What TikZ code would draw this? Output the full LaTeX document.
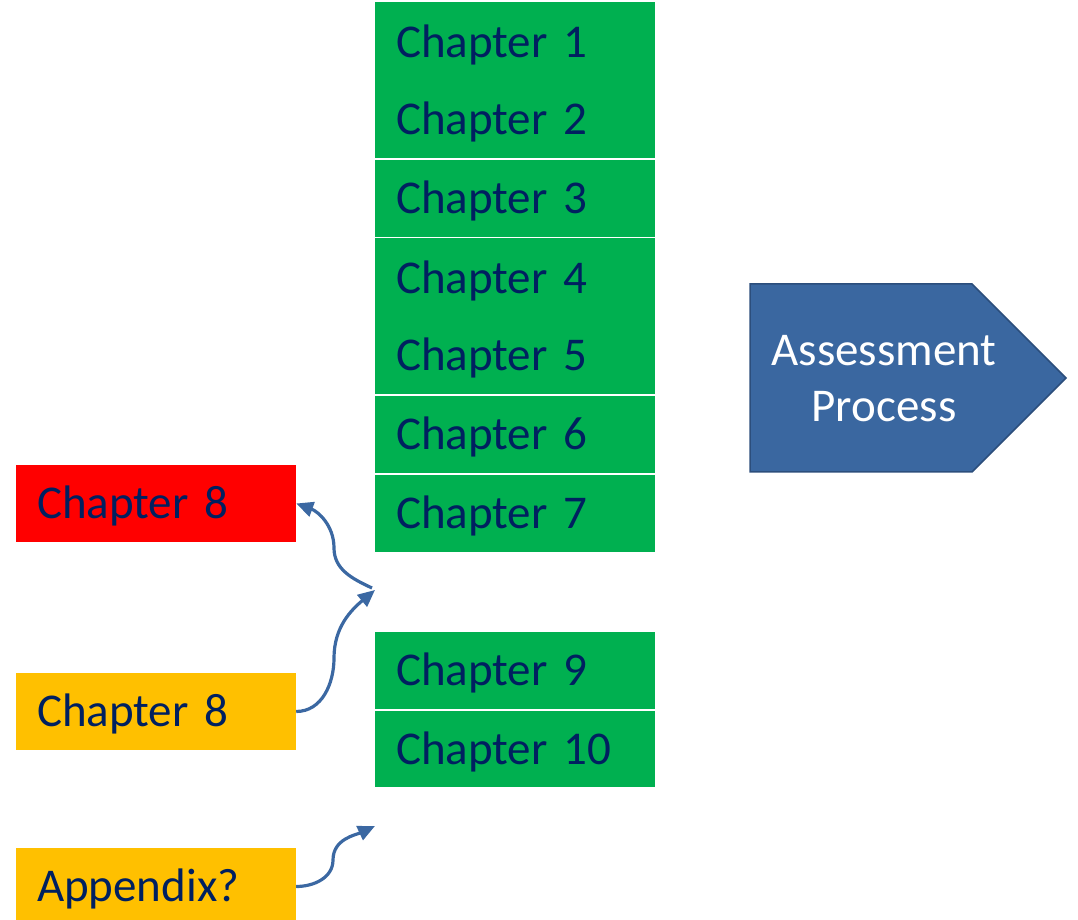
\documentclass[tikz,border=0pt]{standalone}
\usepackage{fontspec}
\setmainfont{Carlito}
\usetikzlibrary{arrows.meta}
\definecolor{chgreen}{HTML}{00B050}
\definecolor{chtext}{HTML}{002060}
\definecolor{chred}{HTML}{FF0000}
\definecolor{chyellow}{HTML}{FFC000}
\definecolor{asfill}{HTML}{3A67A0}
\definecolor{asline}{HTML}{2C4E7C}
\definecolor{arrblue}{HTML}{3B68A2}
\tikzset{
  chbox/.style={rectangle, draw=none, minimum width=280pt, text width=238pt,
    inner xsep=21pt, inner ysep=0pt, align=left, text height=31pt, text depth=0pt,
    text=chtext, font=\fontsize{47}{56}\selectfont},
  greenbox/.style={chbox, fill=chgreen, minimum height=77.5pt},
  redbox/.style={chbox, fill=chred, minimum height=77pt},
  yellowbox/.style={chbox, fill=chyellow, minimum height=77pt},
  arr/.style={draw=arrblue, line width=3.2pt, -{Triangle[length=17pt,width=15pt]}}
}
\begin{document}
\begin{tikzpicture}[x=1pt,y=1pt]
\useasboundingbox (0,0) rectangle (1078,920);
\clip (0,0) rectangle (1078,920);
% green chapter column
\node[greenbox, minimum height=78.5pt] (c1) at (515,878.25) {Chapter 1};
\node[greenbox] (c2) at (515,800.75) {Chapter 2};
\node[greenbox, minimum height=77pt] (c3) at (515,721.5) {Chapter 3};
\node[greenbox, minimum height=78.5pt] (c4) at (515,642.25) {Chapter 4};
\node[greenbox] (c5) at (515,564.75) {Chapter 5};
\node[greenbox, minimum height=77pt] (c6) at (515,485.5) {Chapter 6};
\node[greenbox, minimum height=77pt] (c7) at (515,406.5) {Chapter 7};
\node[greenbox, minimum height=77pt] (c9) at (515,249.5) {Chapter 9};
\node[greenbox, minimum height=76pt] (c10) at (515,171) {Chapter 10};
% left boxes
\node[redbox] (r8) at (156,416.5) {Chapter 8};
\node[yellowbox] (y8) at (156,208.5) {Chapter 8};
\node[yellowbox] (app) at (156,33.5) {Appendix?};
% assessment pentagon
\draw[fill=asfill, draw=asline, line width=1.5pt]
  (750,636) -- (972,636) -- (1066,542) -- (972,448) -- (750,448) -- cycle;
\node[text=white, align=center, font=\fontsize{47}{56}\selectfont] (assess) at (884,541)
  {Assessment\\Process};
% free ends
\coordinate (g1) at (375,330);
\coordinate (g1s) at (372,332);
\coordinate (g2) at (375,94);
% connectors
\draw[arr] (y8.east) to[out=0,in=-90] (334,262) to[out=90,in=-140] (g1);
\draw[arr] (g1s) to[out=155,in=-90] (334,372) to[out=90,in=-20] (r8.east);
\draw[arr] (app.east) to[out=0,in=-90] (333,60) to[out=90,in=-155] (g2);
\end{tikzpicture}
\end{document}
